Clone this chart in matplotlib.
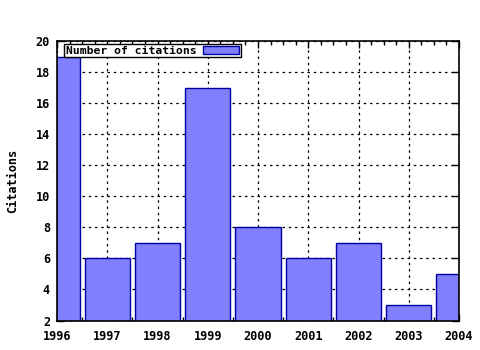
import matplotlib
matplotlib.use("Agg")
import matplotlib.pyplot as plt
from matplotlib.ticker import MultipleLocator
from matplotlib.patches import Rectangle

years = [1996, 1997, 1998, 1999, 2000, 2001, 2002, 2003, 2004]
citations = [19, 6, 7, 17, 8, 6, 7, 3, 5]
yticks = list(range(2, 21, 2))
series_label = "Number of citations"
ylabel = "Citations"

FS = 8.6
font = dict(family="DejaVu Sans Mono", weight="bold", size=FS)

fig = plt.figure(figsize=(4.8, 3.5), dpi=100)
ax = fig.add_axes([57/480, 1-320.5/350, (459-57)/480, (320.5-41)/350])

ax.bar(years, citations, width=0.9, color="#8080ff", edgecolor="#0000a0",
       linewidth=1.0, zorder=2)

ax.set_xlim(1996, 2004)
ax.set_ylim(2, 20)
ax.set_xticks(years)
ax.set_yticks(yticks)
ax.xaxis.set_minor_locator(MultipleLocator(0.25))
ax.tick_params(which="both", direction="in", top=True, right=True, color="black")
ax.tick_params(which="major", length=5, width=1)
ax.tick_params(which="minor", length=3, width=1)
ax.tick_params(axis="y", which="minor", left=False, right=False)
ax.set_xticklabels([str(y) for y in years], fontdict=font)
ax.set_yticklabels([str(y) for y in yticks], fontdict=font)
ax.tick_params(axis="x", pad=7)
ax.tick_params(axis="y", pad=5)
ax.grid(True, which="major", linestyle=(0, (2, 3)), color="black", linewidth=0.9, zorder=1)
ax.set_axisbelow(True)
for s in ax.spines.values():
    s.set_linewidth(1.2)
    s.set_zorder(5)

ax.set_ylabel(ylabel, fontdict=font, labelpad=12)

# legend box
leg = ax.legend([Rectangle((0, 0), 1, 1, facecolor="#8080ff", edgecolor="#0000a0")],
                [series_label], loc="upper left", bbox_to_anchor=(0.017, 0.99),
                prop=dict(family="DejaVu Sans Mono", weight="bold", size=8.2),
                frameon=True, fancybox=False, borderpad=0.15, handlelength=3.2,
                handleheight=0.75, handletextpad=0.6, markerfirst=False,
                borderaxespad=0.0)
leg.get_frame().set_edgecolor("black")
leg.get_frame().set_linewidth(1.0)
leg.get_frame().set_facecolor("white")
leg.get_frame().set_alpha(1.0)
leg.set_zorder(6)

fig.savefig("out.png", dpi=100)
